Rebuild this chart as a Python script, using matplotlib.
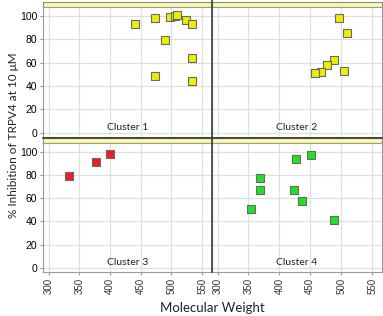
import matplotlib.pyplot as plt
from matplotlib.lines import Line2D

# --- data ---
c1_mw = [440, 473, 490, 498, 505, 509, 524, 533, 533, 473, 533]
c1_inh = [93, 98, 79, 99, 100, 101, 96, 93, 64, 49, 44]

c2_mw = [496, 509, 488, 477, 468, 458, 504]
c2_inh = [98, 85, 62, 58, 52, 51, 53]

c3_mw = [334, 377, 400]
c3_inh = [79, 91, 98]

c4_mw = [427, 451, 369, 369, 423, 437, 354, 489]
c4_inh = [94, 97, 77, 67, 67, 58, 51, 41]

clusters = ["Cluster 1", "Cluster 2", "Cluster 3", "Cluster 4"]
colors = ["#eeee00", "#eeee00", "#ee1c24", "#22e022"]
xticks = [300, 350, 400, 450, 500, 550]
yticks = [0, 20, 40, 60, 80, 100]

plt.rcParams['font.family'] = ['Liberation Sans', 'DejaVu Sans']

W, H = 383, 316
fig = plt.figure(figsize=(W / 100, H / 100), dpi=100)


def box(x0, y0, x1, y1):
    # pixel box (top-left origin) -> figure fraction
    return [x0 / W, 1 - y1 / H, (x1 - x0) / W, (y1 - y0) / H]


cols = [(43, 212), (212, 382)]
rows = [(2, 7, 137), (138, 143, 272)]
data = [(c1_mw, c1_inh), (c2_mw, c2_inh), (c3_mw, c3_inh), (c4_mw, c4_inh)]

for r, (s0, s1, p1) in enumerate(rows):
    for c, (x0, x1) in enumerate(cols):
        i = r * 2 + c
        # yellow header strip
        st = fig.add_axes(box(x0, s0, x1, s1))
        st.set_facecolor("#fafaa8")
        st.set_xticks([])
        st.set_yticks([])
        for sp in st.spines.values():
            sp.set_color("#8a8a8a")
            sp.set_linewidth(0.8)

        ax = fig.add_axes(box(x0, s1, x1, p1))
        mw, inh = data[i]
        ax.scatter(mw, inh, marker="s", s=36, c=colors[i],
                   edgecolors="#6a6a6a", linewidths=0.8, zorder=3)
        ax.set_xlim(291, 566)
        ax.set_ylim(-3.5, 107.5)
        ax.set_xticks(xticks)
        ax.set_yticks(yticks)
        ax.grid(True, color="#dde1dd", linewidth=0.9)
        ax.set_axisbelow(True)
        for sp in ax.spines.values():
            sp.set_color("#9a9a9a")
            sp.set_linewidth(0.8)
        ax.tick_params(length=2, color="#9a9a9a", labelsize=7.5, pad=2)
        if c == 1:
            ax.tick_params(axis="y", left=False, labelleft=False)
        if r == 0:
            ax.tick_params(axis="x", bottom=False, labelbottom=False)
        else:
            ax.tick_params(axis="x", labelrotation=90, labelsize=7,
                           labelcolor="#333333")
        ax.text(0.5, 0.04, clusters[i], transform=ax.transAxes,
                ha="center", va="bottom", fontsize=7.5, color="#222222",
                family=["Lato", "DejaVu Sans"])

# dark separators between the trellis panels
fig.add_artist(Line2D([212 / W, 212 / W], [1 - 0 / H, 1 - 272 / H],
                      transform=fig.transFigure, color="#333333", lw=1.1))
fig.add_artist(Line2D([43 / W, 382 / W], [1 - 137.5 / H, 1 - 137.5 / H],
                      transform=fig.transFigure, color="#333333", lw=1.1))

fig.text(212 / W, 1 - 308 / H, "Molecular Weight", ha="center",
         va="center", fontsize=9.5, color="#222222",
         family=["Lato", "DejaVu Sans"])
fig.text(14 / W, 1 - 135 / H, "% Inhibition of TRPV4 at 10 μM",
         rotation=90, ha="center", va="center", fontsize=8.5, color="#222222",
         family=["Lato", "DejaVu Sans"])

fig.savefig("out.png", dpi=100)
